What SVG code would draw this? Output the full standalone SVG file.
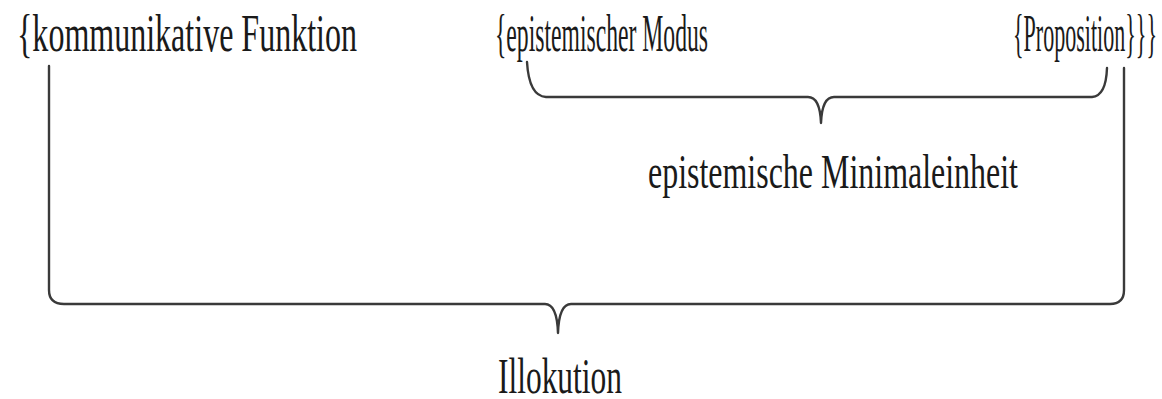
<svg xmlns="http://www.w3.org/2000/svg" width="1162" height="399" viewBox="0 0 1162 399">
<style>
.t{font-family:"Liberation Serif","DejaVu Serif",serif;fill:#1a1a1a;}
.br{fill:none;stroke:#3a3a3a;stroke-width:2.4;stroke-linecap:round;stroke-linejoin:round;}
</style>
<rect width="1162" height="399" fill="#ffffff"/>
<g id="kommunikative">
<text class="t" x="17" y="51" font-size="52" textLength="340" lengthAdjust="spacingAndGlyphs">{kommunikative Funktion</text>
</g>
<g id="modus">
<text class="t" x="495" y="51" font-size="52" textLength="213" lengthAdjust="spacingAndGlyphs">{epistemischer Modus</text>
</g>
<g id="proposition">
<text class="t" x="1013" y="51" font-size="52" textLength="144" lengthAdjust="spacingAndGlyphs">{Proposition}}}</text>
</g>
<g id="minimaleinheit">
<text class="t" x="648" y="188" font-size="48" textLength="370" lengthAdjust="spacingAndGlyphs">epistemische Minimaleinheit</text>
</g>
<g id="illokution">
<text class="t" x="498" y="393" font-size="50" textLength="124" lengthAdjust="spacingAndGlyphs">Illokution</text>
</g>
<g id="connectors">
<path class="br" d="M527,62 Q529,96 546,97 L808,97 Q820,97 821,123 Q822,97 834,97 L1092,97 Q1106,96 1107,68"/>
<path class="br" d="M49,66 L49,290 Q49,304 64,304 L545,304 Q557,304 558,333 Q559,304 571,304 L1110,304 Q1124,304 1124,290 L1124,68"/>
</g>
</svg>
